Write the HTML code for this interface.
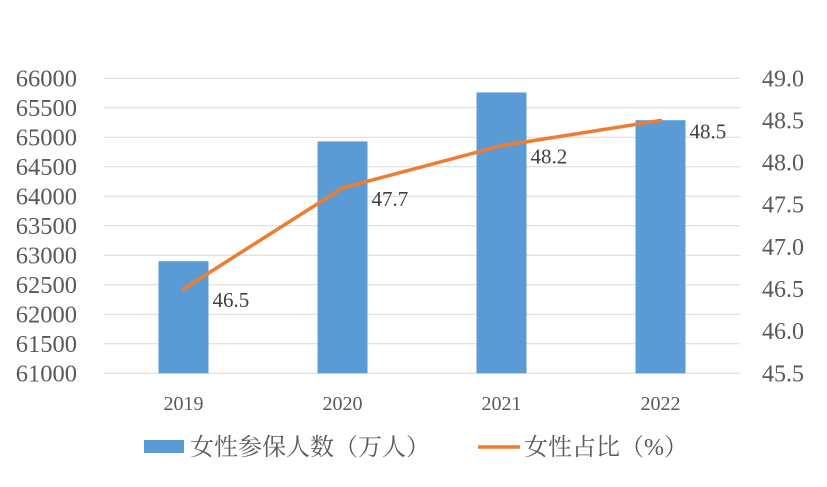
<!DOCTYPE html>
<html><head><meta charset="utf-8"><style>
body{margin:0;background:#fff}
svg text{font-family:"Liberation Serif","Noto Serif CJK SC",serif}
</style></head><body>
<svg id="c" width="827" height="482"></svg>
<script>
const categories=["2019","2020","2021","2022"];
const insuredWomen=[62900,64930,65760,65290];
const womenShare=[46.5,47.7,48.2,48.5];
const shareLabels=["46.5","47.7","48.2","48.5"];
const leftTicks=[61000,61500,62000,62500,63000,63500,64000,64500,65000,65500,66000];
const rightTicks=["45.5","46.0","46.5","47.0","47.5","48.0","48.5","49.0"];
const NS="http://www.w3.org/2000/svg";
const svg=document.getElementById("c");
const X0=104,X1=740,Y0=373.3,Y1=78.3;
const yL=v=>Y0-(v-61000)/5000*(Y0-Y1);
const yR=v=>Y0-(v-45.5)/3.5*(Y0-Y1);
const band=(X1-X0)/categories.length;
const xC=i=>X0+band*(i+0.5);
function el(t,a,txt){const e=document.createElementNS(NS,t);for(const k in a)e.setAttribute(k,a[k]);if(txt!=null)e.textContent=txt;svg.appendChild(e);return e;}
leftTicks.forEach(v=>{
 const g=el("line",{x1:X0,x2:X1,y1:yL(v),y2:yL(v),stroke:"#d9d9d9","stroke-width":1});
 
 
 const t=el("text",{x:77,y:yL(v)+8,"text-anchor":"end","font-size":24.5,fill:"#595959"},String(v));
 
 
});
rightTicks.forEach(s=>{
 const t=el("text",{x:762,y:yR(+s)+8,"font-size":24,fill:"#595959"},s);
 
 
});
categories.forEach((c,i)=>{
 const b=el("rect",{x:xC(i)-25,y:yL(insuredWomen[i]),width:50,height:Y0-yL(insuredWomen[i]),fill:"#5b9bd5"});
 
 
 const t=el("text",{x:xC(i),y:410,"text-anchor":"middle","font-size":20,fill:"#595959"},c);
 
 
});
const pl=el("polyline",{points:womenShare.map((v,i)=>xC(i)+","+yR(v)).join(" "),fill:"none",stroke:"#ed7d31","stroke-width":3.5,"stroke-linecap":"round"});


womenShare.forEach((v,i)=>{
 const t=el("text",{x:xC(i)+29,y:yR(v)+18,"font-size":21,fill:"#404040"},shareLabels[i]);
 
 
});
const lr=el("rect",{x:144,y:440,width:40,height:13,fill:"#5b9bd5"});


const lt=el("text",{x:190,y:455,"font-size":24,fill:"#595959"},"女性参保人数（万人）");


const ll=el("line",{x1:478,x2:520,y1:447,y2:447,stroke:"#ed7d31","stroke-width":3.5});


const lt2=el("text",{x:524,y:455,"font-size":24,fill:"#595959"},"女性占比（%）");


</script>
</body></html>
